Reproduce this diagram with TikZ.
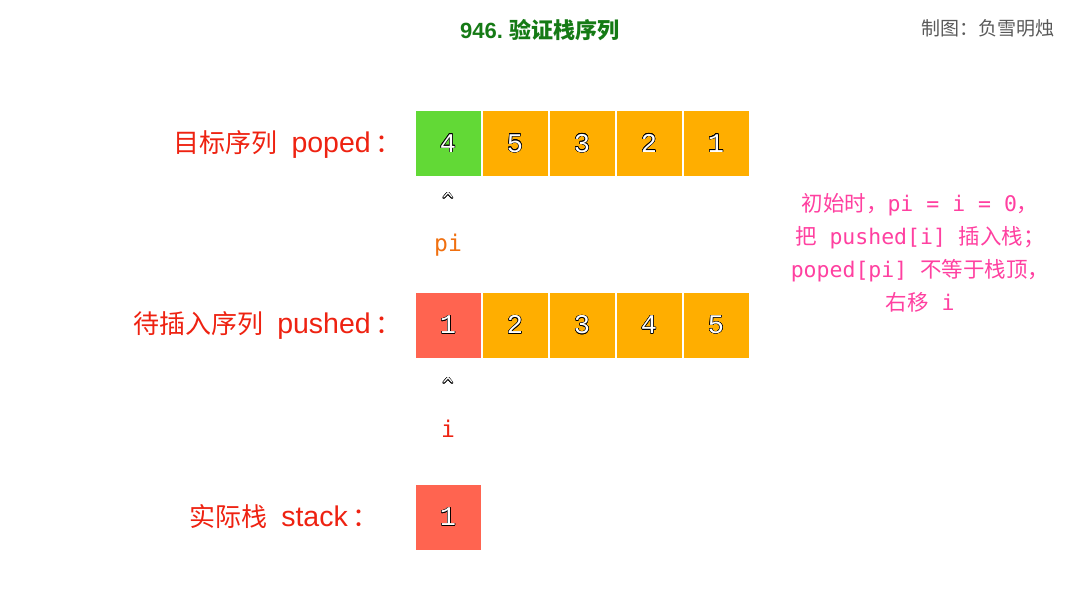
\documentclass[tikz,border=0pt]{standalone}
\usepackage{fontspec}
\setmainfont{Noto Sans CJK SC}
\newfontfamily\cjk{Noto Sans CJK SC}
\newfontfamily\lat{Liberation Sans}
\newfontfamily\mono{DejaVu Sans Mono}
\newfontfamily\digits{Liberation Mono}
\usepackage{xcolor}
\usepackage{contour}
\contourlength{0.45pt}
\usepackage{tikz}

\definecolor{boxgreen}{RGB}{98,217,54}
\definecolor{boxorange}{RGB}{255,174,0}
\definecolor{boxred}{RGB}{255,100,80}
\definecolor{labred}{RGB}{238,34,17}
\definecolor{ptrorange}{RGB}{240,112,16}
\definecolor{notepink}{RGB}{255,64,160}
\definecolor{titlegreen}{RGB}{21,122,21}
\newcommand{\cellnum}[1]{\contour{black}{\textcolor{white}{#1}}}
\newcommand{\tagtext}[2]{#1\hspace{14pt}{\lat\fontsize{28.5}{28.5}\selectfont #2}\hspace{5pt}：}

\tikzset{
  cell/.style={minimum width=65pt, minimum height=65pt, inner sep=0pt, font=\digits\fontsize{27}{27}\selectfont},
  tag/.style={anchor=east, inner sep=0pt, text=labred, font=\fontsize{26}{26}\selectfont},
  caret/.style={inner sep=0pt, font=\mono\fontsize{19}{19}\selectfont},
  ptr/.style={inner sep=0pt, font=\mono\fontsize{23}{23}\selectfont}
}

\begin{document}
\begin{tikzpicture}[x=1pt,y=-1pt]
		\useasboundingbox (0,0) rectangle (1080,608);
		\node[text=titlegreen, font=\bfseries\fontsize{22}{22}\selectfont] (title) at (540,30) {{\lat 946.} 验证栈序列};
		\node[text=black!65, font=\fontsize{19}{19}\selectfont] (credit) at (988,28) {制图：负雪明烛};

		\node[tag] (poplab) at (402,144) {\tagtext{目标序列}{poped}};
		\foreach \v/\c [count=\k] in {4/boxgreen,5/boxorange,3/boxorange,2/boxorange,1/boxorange}
			\node[cell, fill=\c] (pop\k) at ({448+67*(\k-1)},143.5) {\cellnum{\v}};
		\node[caret] (popcaret) at (448,200) {\cellnum{\^{}}};
		\node[ptr, text=ptrorange] (pi) at (448,245) {pi};

		\node[tag] (pushlab) at (402,325) {\tagtext{待插入序列}{pushed}};
		\foreach \v/\c [count=\k] in {1/boxred,2/boxorange,3/boxorange,4/boxorange,5/boxorange}
			\node[cell, fill=\c] (push\k) at ({448+67*(\k-1)},325) {\cellnum{\v}};
		\node[caret] (pushcaret) at (448,385) {\cellnum{\^{}}};
		\node[ptr, text=labred] (i) at (448,429) {i};

		\node[tag] (stacklab) at (379,517) {\tagtext{实际栈}{stack}};
		\node[cell, fill=boxred] (stk1) at (448,517) {\cellnum{1}};

		\node[text=notepink, align=center, font=\fontsize{21.5}{33}\selectfont] (note) at (920,253)
			{初始时，{\mono pi = i = 0}，\\
			 把{\mono\ pushed[i] }插入栈；\\
			 {\mono poped[pi] }不等于栈顶，\\
			 右移{\mono\ i}};
	\end{tikzpicture}
\end{document}
